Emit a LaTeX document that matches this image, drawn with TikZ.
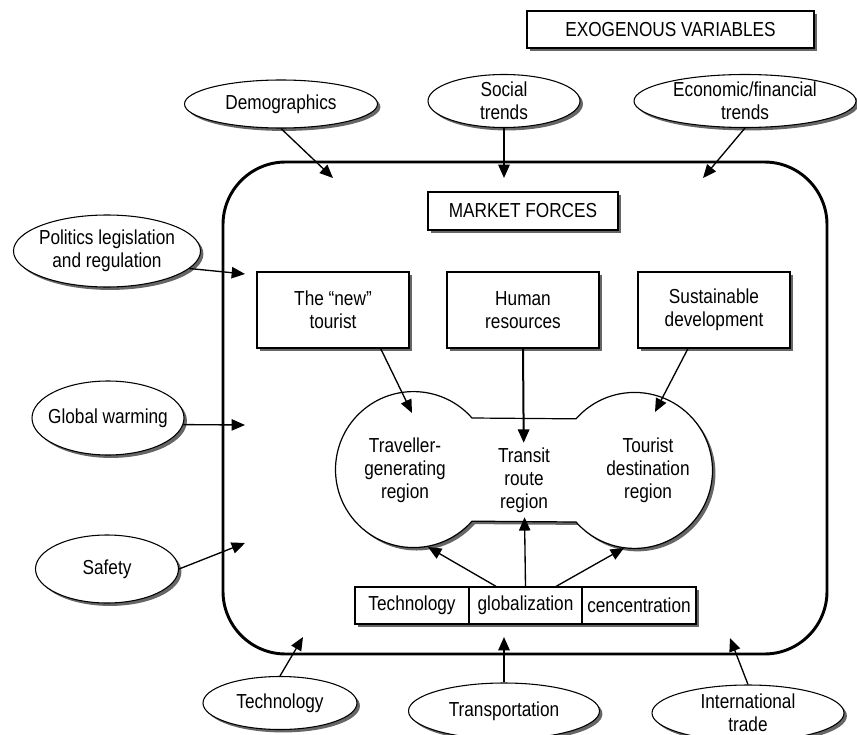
\documentclass[tikz,border=0pt]{standalone}
\usepackage{fontspec}
\setmainfont{Liberation Sans}[FakeStretch=0.85]
\usetikzlibrary{shapes.geometric,shadows,arrows.meta}
\newdimen\pix \pix=0.75pt
\tikzset{
  shad/.style={drop shadow={shadow xshift=2.2pt,shadow yshift=-2.2pt,fill=black!60,opacity=1}},
  varbox/.style={draw,fill=white,line width=0.9pt,shad,align=center,inner sep=0pt},
  exovar/.style={ellipse,draw,fill=white,line width=0.8pt,shad,inner sep=0pt},
  arr/.style={-{Triangle[length=10pt,width=8.5pt]},line width=1pt},
  every label/.style={align=center,inner sep=0pt}
}
\begin{document}
\begin{tikzpicture}[x=0.75pt,y=-0.75pt,font=\fontsize{15.2}{17.3}\selectfont]
\useasboundingbox (0,0) rectangle (857,735);
\draw[line width=2.2pt,rounded corners=47pt] (223,162) rectangle (827,654);
\path[draw,fill=white,line width=0.9pt,shad] (472,418) arc[start angle=-41.4,end angle=-318.6,radius=78]
  -- (576,522) arc[start angle=138.6,end angle=-138.6,radius=78] -- cycle;
\node[varbox,minimum width=287\pix,minimum height=37\pix] (exo) at (670.5,29.5) {EXOGENOUS VARIABLES};
\node[varbox,minimum width=190\pix,minimum height=38\pix] (market) at (523,211) {MARKET FORCES};
\node[exovar,minimum width=193\pix,minimum height=48\pix,label=center:Demographics] (demo) at (281,104) {};
\node[exovar,minimum width=152\pix,minimum height=53\pix,label={center:Social\\trends}] (social) at (504,101) {};
\node[exovar,minimum width=222\pix,minimum height=53\pix,label={center:Economic/financial\\trends}] (econ) at (745,101) {};
\node[exovar,minimum width=187\pix,minimum height=72\pix,label={center:Politics legislation\\and regulation}] (politics) at (107,251) {};
\node[exovar,minimum width=152\pix,minimum height=74\pix,label=center:Global warming] (global) at (108,418) {};
\node[exovar,minimum width=143\pix,minimum height=68\pix,label=center:Safety] (safety) at (107,569) {};
\node[exovar,minimum width=154\pix,minimum height=53\pix,label=center:Technology] (techo) at (280,703) {};
\node[exovar,minimum width=191\pix,minimum height=56\pix,label=center:Transportation] (trans) at (504,711) {};
\node[exovar,minimum width=192\pix,minimum height=56\pix,label={center:International\\trade}] (intl) at (748,713) {};
\node[varbox,minimum width=152\pix,minimum height=76\pix] (tourist) at (333,310) {The “new”\\tourist};
\node[varbox,minimum width=152\pix,minimum height=76\pix] (human) at (523,310) {Human\\resources};
\node[varbox,minimum width=152\pix,minimum height=76\pix] (sust) at (714,310) {Sustainable\\development};
\node[varbox,minimum width=114\pix,minimum height=37\pix] (techn) at (412,605.5) {Technology};
\node[varbox,minimum width=113\pix,minimum height=37\pix] (glob) at (525.5,605.5) {globalization};
\node[varbox,minimum width=114\pix,minimum height=37\pix] (conc) at (639,605.5) {cencentration};
\node[align=center] (trav) at (405,470) {Traveller-\\generating\\region};
\node[align=center] (transit) at (524,480) {Transit\\route\\region};
\node[align=center] (tdest) at (648,470) {Tourist\\destination\\region};
\coordinate (demotip) at (333,178);
\coordinate (socialtip) at (504,178);
\coordinate (econtip) at (703,178);
\coordinate (politip) at (245,274);
\coordinate (globaltip) at (245,425);
\coordinate (safetytip) at (245,543);
\coordinate (techtip) at (303,637);
\coordinate (transtip) at (504,637);
\coordinate (intltip) at (730,638);
\coordinate (travtop) at (412,413);
\coordinate (desttop) at (655,412);
\coordinate (travbot) at (428,547);
\coordinate (destbot) at (624,548);
\draw[arr] (demo.south) -- (demotip);
\draw[arr,line width=1.5pt] (social.south) -- (socialtip);
\draw[arr] (econ.south) -- (econtip);
\draw[arr] (politics.-12) -- (politip);
\draw[arr] (global.-5) -- (globaltip);
\draw[arr] (safety.east) -- (safetytip);
\draw[arr] (techo.north) -- (techtip);
\draw[arr,line width=1.3pt] (trans.north) -- (transtip);
\draw[arr] (intl.north) -- (intltip);
\draw[arr] (tourist.321) -- (travtop);
\draw[arr,line width=1.5pt] (human.south) -- (transit);
\draw[arr] (sust.236) -- (desttop);
\draw[arr] (glob.147) -- (travbot);
\draw[arr] (glob.north) -- (transit);
\draw[arr] (glob.32) -- (destbot);
\end{tikzpicture}
\end{document}
